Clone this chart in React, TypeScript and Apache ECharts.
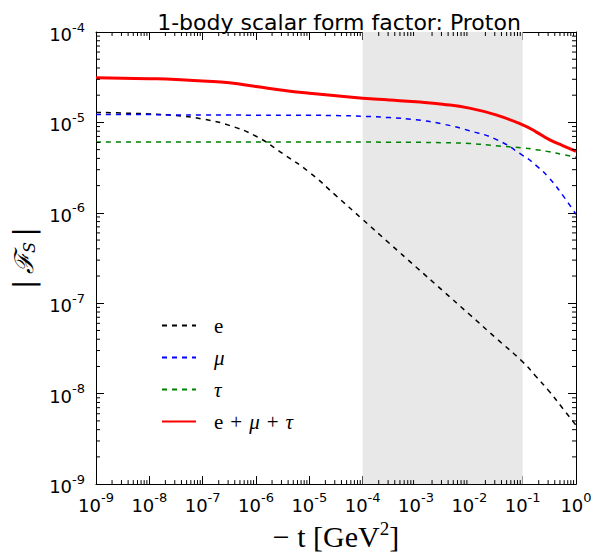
import React, { useEffect, useRef } from "react";
import * as echarts from "echarts";

// -t [GeV^2]
const tValues = [1e-9, 3.16e-9, 1e-8, 3.16e-8, 1e-7, 3.16e-7, 1e-6, 3.16e-6, 1e-5, 3.16e-5, 1e-4, 3.16e-4, 1e-3, 3.16e-3, 1e-2, 3.16e-2, 1e-1, 1.78e-1, 3.16e-1, 5.62e-1, 1];
const electron = [1.29e-5, 1.27e-5, 1.24e-5, 1.19e-5, 1.09e-5, 9.27e-6, 7.03e-6, 4.53e-6, 2.81e-6, 1.55e-6, 8.45e-7, 4.61e-7, 2.52e-7, 1.38e-7, 7.55e-8, 4.12e-8, 2.25e-8, 1.55e-8, 1.06e-8, 6.9e-9, 4.47e-9];
const muon = [1.22e-5, 1.22e-5, 1.22e-5, 1.21e-5, 1.21e-5, 1.21e-5, 1.2e-5, 1.2e-5, 1.2e-5, 1.19e-5, 1.17e-5, 1.13e-5, 1.07e-5, 9.6e-6, 8.1e-6, 6.5e-6, 4.33e-6, 3.35e-6, 2.42e-6, 1.57e-6, 9.6e-7];
const tau = [6.08e-6, 6.08e-6, 6.08e-6, 6.08e-6, 6.08e-6, 6.08e-6, 6.08e-6, 6.08e-6, 6.07e-6, 6.07e-6, 6.06e-6, 6.05e-6, 6.03e-6, 5.97e-6, 5.85e-6, 5.52e-6, 5.22e-6, 5.0e-6, 4.73e-6, 4.42e-6, 4.12e-6];
const total = [3.12e-5, 3.08e-5, 3.05e-5, 2.99e-5, 2.87e-5, 2.74e-5, 2.5e-5, 2.27e-5, 2.1e-5, 1.97e-5, 1.85e-5, 1.77e-5, 1.69e-5, 1.59e-5, 1.44e-5, 1.21e-5, 9.4e-6, 7.87e-6, 6.44e-6, 5.54e-6, 4.8e-6];

const xMin = 1e-9;
const xMax = 1;
const yMin = 1e-9;
const yMax = 1e-4;
const bandRange = [1e-4, 1e-1];
const xDecades = [-9, -8, -7, -6, -5, -4, -3, -2, -1];
const yDecades = [-9, -8, -7, -6, -5];
const minorMultipliers = [2, 3, 4, 5, 6, 7, 8, 9];

const titleText = "1-body scalar form factor: Proton";
const seriesNames = ["e", "\u03bc", "\u03c4", "e + \u03bc + \u03c4"];

const xMinorTicks: number[][] = [];
xDecades.forEach((d) => minorMultipliers.forEach((m) => xMinorTicks.push([m * Math.pow(10, d), yMin])));
const yMinorTicks: number[][] = [];
yDecades.forEach((d) => minorMultipliers.forEach((m) => yMinorTicks.push([xMin, m * Math.pow(10, d)])));

const pairs = (ys: number[]) => tValues.map((t, i) => [t, ys[i]]);

const tickFormatter = (v: number) => {
  const e = Math.round(Math.log10(v));
  return `{b|10}{s|${e}}`;
};

const tickRich = {
  b: { fontSize: 18, fontFamily: "DejaVu Sans", color: "#000", verticalAlign: "bottom", lineHeight: 23 },
  s: { fontSize: 13, fontFamily: "DejaVu Sans", color: "#000", verticalAlign: "top", lineHeight: 12 },
};

const MINOR = 4;
const SERIF = "Liberation Serif";

export default function App() {
  const ref = useRef<HTMLDivElement>(null);
  useEffect(() => {
    document.body.style.margin = "0";
    const chart = echarts.init(ref.current!, undefined, { renderer: "svg" });
    const lineBase = (name: string, data: number[], color: string, dashed: boolean, width: number, z: number) => ({
      name,
      type: "line",
      data: pairs(data),
      symbol: "none",
      smooth: 0.5,
      z,
      lineStyle: { color, width, type: dashed ? [5, 5] : "solid" },
      itemStyle: { color },
    });
    const axisCommon = {
      type: "log",
      logBase: 10,
      axisLine: { show: true, onZero: false, lineStyle: { color: "#000", width: 1 } },
      axisTick: { show: true, inside: true, length: 8, lineStyle: { color: "#000", width: 1 } },
      splitLine: { show: false },
      minorTick: { show: false },
    };
    chart.setOption({
      animation: false,
      backgroundColor: "#fff",
      title: {
        text: titleText,
        left: 334,
        top: 6,
        textAlign: "center",
        textStyle: { fontFamily: "DejaVu Sans", fontSize: 22, fontWeight: "normal", color: "#000" },
      },
      grid: { left: 96, right: 19, top: 32, bottom: 68, show: false },
      legend: {
        orient: "vertical",
        left: 156,
        top: 310,
        itemWidth: 34,
        itemHeight: 14,
        itemGap: 11,
        data: seriesNames,
        selectedMode: false,
        itemStyle: { opacity: 0 },
        textStyle: {
          fontFamily: SERIF,
          fontSize: 21,
          color: "#000",
          padding: [0, 0, 0, 13],
          rich: {
            r: { fontFamily: SERIF, fontSize: 21, color: "#000" },
            i: { fontFamily: SERIF, fontSize: 21, fontStyle: "italic", color: "#000" },
          },
        },
        formatter: (name: string) => {
          if (name === "e") return "{r|e}";
          if (name === "\u03bc") return "{i|\u03bc}";
          if (name === "\u03c4") return "{i|\u03c4}";
          return "{r|e\u2004+\u2004}{i|\u03bc}{r|\u2004+\u2004}{i|\u03c4}";
        },
      },
      xAxis: [
        {
          ...axisCommon,
          position: "bottom",
          min: xMin,
          max: xMax,
          splitNumber: 9,
          axisLabel: { show: true, margin: 7, formatter: tickFormatter, rich: tickRich },
          name: "{n|\u2212 t [GeV}{s|2}{n|]}",
          nameLocation: "middle",
          nameGap: 34,
          nameTextStyle: {
            rich: {
              n: { fontFamily: SERIF, fontSize: 30, color: "#000", verticalAlign: "bottom", lineHeight: 32 },
              s: { fontFamily: SERIF, fontSize: 19, color: "#000", verticalAlign: "top", lineHeight: 19 },
            },
          },
        },
        {
          ...axisCommon,
          position: "top",
          min: xMin,
          max: xMax,
          splitNumber: 9,
          axisLabel: { show: false },
        },
      ],
      yAxis: [
        {
          ...axisCommon,
          position: "left",
          min: yMin,
          max: yMax,
          splitNumber: 5,
          axisLabel: { show: true, margin: 11, formatter: tickFormatter, rich: tickRich },
          name: "{n||\u2009}{f|\u2131}{s|S}{n|\u2009|}",
          nameLocation: "middle",
          nameRotate: 90,
          nameGap: 56,
          nameTextStyle: {
            rich: {
              n: { fontFamily: "DejaVu Sans", fontSize: 28, color: "#000" },
              f: { fontFamily: "DejaVu Serif", fontSize: 26, color: "#000", fontStyle: "italic" },
              s: { fontFamily: "DejaVu Serif", fontSize: 16, color: "#000", fontStyle: "italic", padding: [10, 0, 0, 0] },
            },
          },
        },
        {
          ...axisCommon,
          position: "right",
          min: yMin,
          max: yMax,
          splitNumber: 5,
          axisLabel: { show: false },
        },
      ],
      series: [
        {
          name: "band",
          type: "line",
          data: [],
          z: 1,
          silent: true,
          markArea: {
            silent: true,
            itemStyle: { color: "#e8e8e8" },
            data: [[{ xAxis: bandRange[0] }, { xAxis: bandRange[1] }]],
          },
        },
        {
          name: "xminor",
          type: "custom",
          data: xMinorTicks,
          z: 5,
          silent: true,
          renderItem: (params: any, api: any) => {
            const v = api.value(0);
            const pb = api.coord([v, yMin]);
            const pt = api.coord([v, yMax]);
            return {
              type: "group",
              children: [
                { type: "line", shape: { x1: pb[0], y1: pb[1], x2: pb[0], y2: pb[1] - MINOR }, style: { stroke: "#000", lineWidth: 1 } },
                { type: "line", shape: { x1: pt[0], y1: pt[1], x2: pt[0], y2: pt[1] + MINOR }, style: { stroke: "#000", lineWidth: 1 } },
              ],
            };
          },
        },
        {
          name: "yminor",
          type: "custom",
          data: yMinorTicks,
          z: 5,
          silent: true,
          renderItem: (params: any, api: any) => {
            const v = api.value(1);
            const pl = api.coord([xMin, v]);
            const pr = api.coord([xMax, v]);
            return {
              type: "group",
              children: [
                { type: "line", shape: { x1: pl[0], y1: pl[1], x2: pl[0] + MINOR, y2: pl[1] }, style: { stroke: "#000", lineWidth: 1 } },
                { type: "line", shape: { x1: pr[0], y1: pr[1], x2: pr[0] - MINOR, y2: pr[1] }, style: { stroke: "#000", lineWidth: 1 } },
              ],
            };
          },
        },
        lineBase(seriesNames[0], electron, "#000000", true, 1.5, 3),
        lineBase(seriesNames[1], muon, "#0000ff", true, 1.5, 3),
        lineBase(seriesNames[2], tau, "#008000", true, 1.5, 3),
        lineBase(seriesNames[3], total, "#ff0000", false, 3, 4),
      ],
    } as any);
    return () => chart.dispose();
  }, []);
  return <div ref={ref} style={{ width: 595, height: 556 }} />;
}
